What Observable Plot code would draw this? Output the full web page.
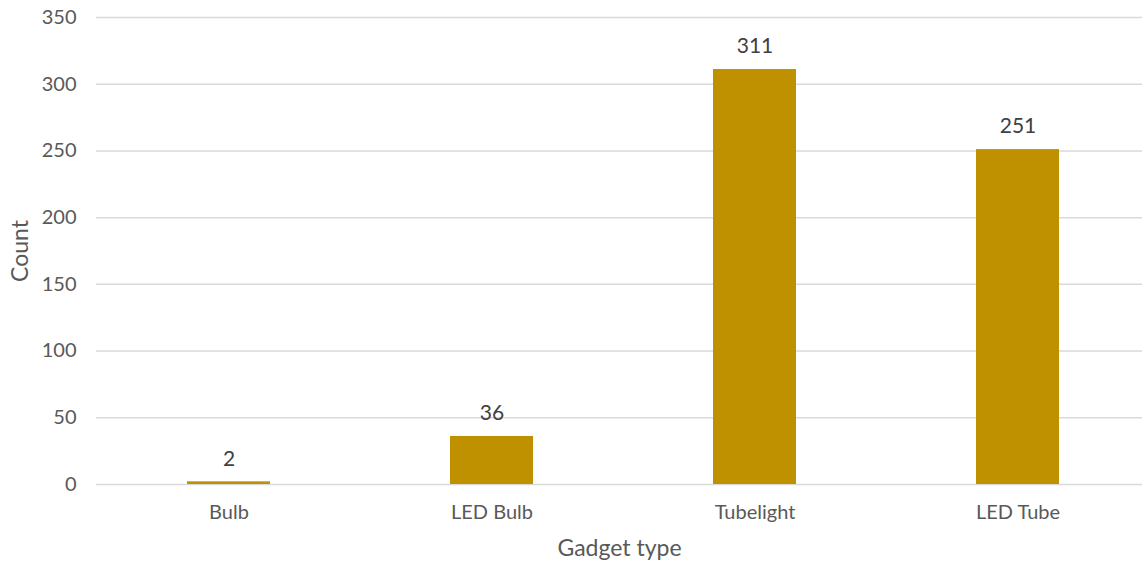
<!DOCTYPE html>
<html><head><meta charset="utf-8">
<script src="https://cdn.jsdelivr.net/npm/d3@7"></script>
<script src="https://cdn.jsdelivr.net/npm/@observablehq/plot@0.6"></script>
<style>body{margin:0;background:#fff;} svg{display:block;}</style>
</head><body><div id="chart"></div>
<script>
const categories = ["Bulb", "LED Bulb", "Tubelight", "LED Tube"];
const counts = [2, 36, 311, 251];
const yTicks = [0, 50, 100, 150, 200, 250, 300, 350];
const data = categories.map((c, i) => ({type: c, count: counts[i]}));
const font = "Lato, 'Open Sans', sans-serif";
const plot = Plot.plot({
  width: 1142, height: 564,
  marginLeft: 96, marginRight: 0, marginTop: 17, marginBottom: 80,
  style: {fontFamily: font, fontSize: "20px", color: "#595959", background: "#fff"},
  x: {domain: categories, range: [96, 1149], paddingInner: 0.685, paddingOuter: 0.3425, align: 0.5, label: null},
  y: {domain: [0, 350], ticks: yTicks, label: null},
  marks: [
    Plot.ruleY(yTicks, {stroke: "#d9d9d9", strokeWidth: 1.5}),
    Plot.barY(data, {x: "type", y: "count", fill: "#BF9000"}),
    Plot.text(data, {x: "type", y: "count", text: d => String(d.count), dy: -23, fill: "#404040", fontSize: 21}),
    Plot.axisY({ticks: yTicks, tickSize: 0, tickPadding: 20, fontSize: 20, fill: "#595959", label: null}),
    Plot.axisX({tickSize: 0, tickPadding: 20, fontSize: 20, fill: "#595959", label: null}),
    Plot.text(["Count"], {frameAnchor: "left", textAnchor: "middle", dx: -76, rotate: -90, fontSize: 23, fill: "#595959"}),
    Plot.text(["Gadget type"], {frameAnchor: "bottom", dy: 71, fontSize: 23, fill: "#595959"})
  ]
});
document.getElementById("chart").append(plot);
</script></body></html>
